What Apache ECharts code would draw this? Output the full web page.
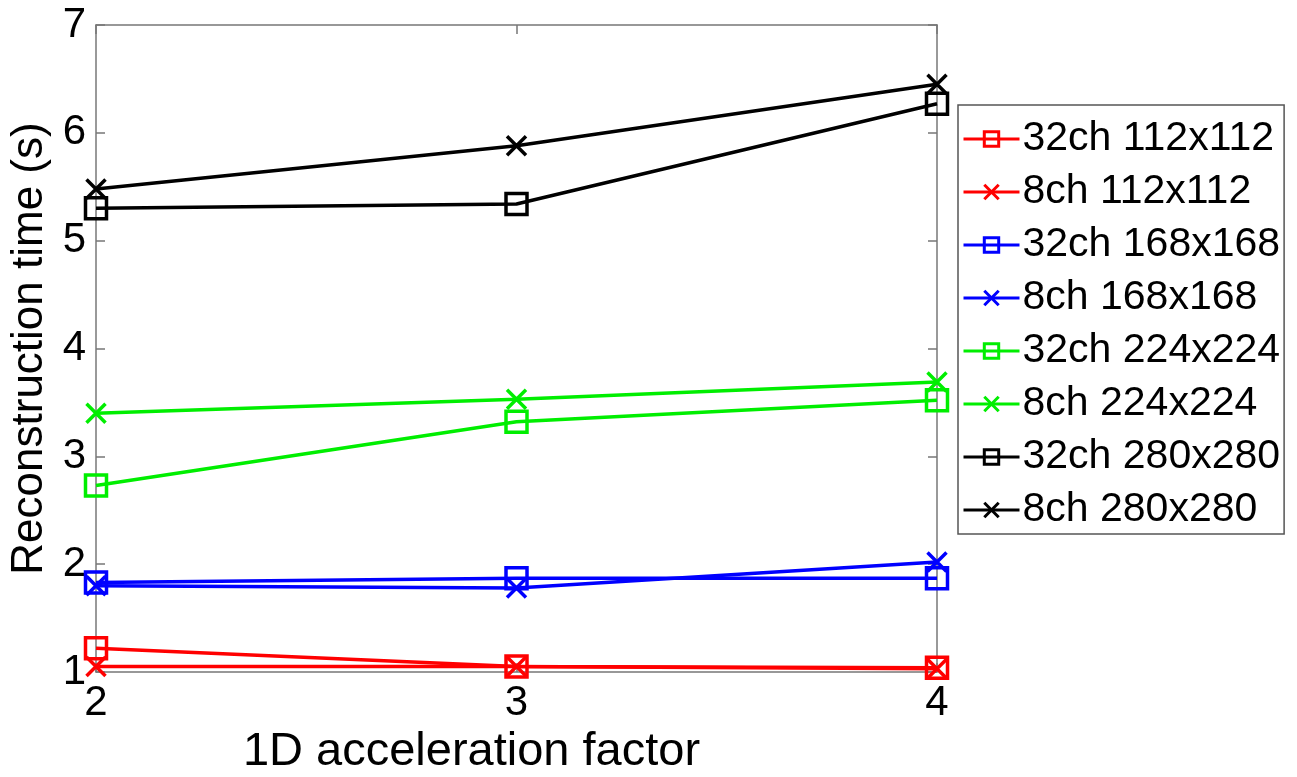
<!DOCTYPE html>
<html>
<head>
<meta charset="utf-8">
<script src="https://cdn.jsdelivr.net/npm/echarts@6/dist/echarts.min.js"></script>
<style>html,body{margin:0;padding:0;background:#fff}#c{width:1297px;height:777px}</style>
</head>
<body>
<div id="c"></div>
<script>
const xValues = [2, 3, 4];
const seriesNames = ['32ch 112x112','8ch 112x112','32ch 168x168','8ch 168x168','32ch 224x224','8ch 224x224','32ch 280x280','8ch 280x280'];
const seriesColors = ['#ff0000','#ff0000','#0000ff','#0000ff','#00ee00','#00ee00','#000000','#000000'];
const seriesMarkers = ['square','x','square','x','square','x','square','x'];
const red32 = [1.22, 1.05, 1.04];
const red8 = [1.05, 1.05, 1.03];
const blue32 = [1.83, 1.87, 1.87];
const blue8 = [1.80, 1.78, 2.02];
const green32 = [2.73, 3.32, 3.52];
const green8 = [3.40, 3.53, 3.69];
const black32 = [5.30, 5.34, 6.27];
const black8 = [5.48, 5.88, 6.45];
const seriesValues = [red32, red8, blue32, blue8, green32, green8, black32, black8];
const xTicks = [2, 3, 4];
const yTicks = [1, 2, 3, 4, 5, 6, 7];

const FONT = 'Liberation Sans, Arial, sans-serif';
const xPath = 'path://M0,0L10,10M10,0L0,10';

const chart = echarts.init(document.getElementById('c'));
const series = seriesNames.map((n, i) => ({
  name: n,
  type: 'line',
  data: xValues.map((x, j) => [x, seriesValues[i][j]]),
  symbol: seriesMarkers[i] === 'square' ? 'rect' : xPath,
  symbolSize: seriesMarkers[i] === 'square' ? 21 : 19,
  lineStyle: { color: seriesColors[i], width: 3.5 },
  itemStyle: { color: seriesMarkers[i] === 'square' ? 'rgba(255,255,255,0)' : seriesColors[i], borderColor: seriesColors[i], borderWidth: 3.5 },
  emphasis: { disabled: true },
  animation: false,
  z: 3
}));

const axisLine = { show: true, lineStyle: { color: '#777', width: 1.5 } };
const tick = { show: true, inside: true, length: 9, lineStyle: { color: '#777', width: 1.5 } };
chart.setOption({
  backgroundColor: '#fff',
  animation: false,
  grid: { left: 96, right: 360, top: 25, bottom: 105, containLabel: false, outerBoundsMode: 'none' },
  xAxis: [{
    type: 'value', min: 2, max: 4, interval: 1,
    name: '1D acceleration factor', nameLocation: 'middle', nameGap: 52,
    nameTextStyle: { fontFamily: FONT, fontSize: 47, color: '#000', padding: [0, 90, 0, 0] },
    axisLine: axisLine, axisTick: tick,
    axisLabel: { fontFamily: FONT, fontSize: 42, color: '#000', margin: 10 },
    splitLine: { show: false }
  }, {
    type: 'value', min: 2, max: 4, interval: 1, position: 'top',
    axisLine: axisLine, axisTick: tick,
    axisLabel: { show: false }, splitLine: { show: false }
  }],
  yAxis: [{
    type: 'value', min: 1, max: 7, interval: 1,
    name: 'Reconstruction time (s)', nameLocation: 'middle', nameGap: 40,
    nameTextStyle: { fontFamily: FONT, fontSize: 44, color: '#000' },
    axisLine: axisLine, axisTick: tick,
    axisLabel: { fontFamily: FONT, fontSize: 42, color: '#000', margin: 10 },
    splitLine: { show: false }
  }, {
    type: 'value', min: 1, max: 7, interval: 1, position: 'right',
    axisLine: axisLine, axisTick: tick,
    axisLabel: { show: false }, splitLine: { show: false }
  }],
  legend: {
    orient: 'vertical', left: 958, top: 105,
    data: seriesNames,
    backgroundColor: '#fff',
    borderColor: '#555', borderWidth: 1.5,
    padding: [13, 4, 3, 4],
    itemWidth: 56, itemHeight: 18, itemGap: 11,
    lineStyle: { width: 3 },
    itemStyle: { borderWidth: 3 },
    textStyle: { fontFamily: FONT, fontSize: 41, color: '#000', lineHeight: 42, padding: [0, 0, 0, -2] },
    selectedMode: false
  },
  series: series
});
</script>
</body>
</html>
